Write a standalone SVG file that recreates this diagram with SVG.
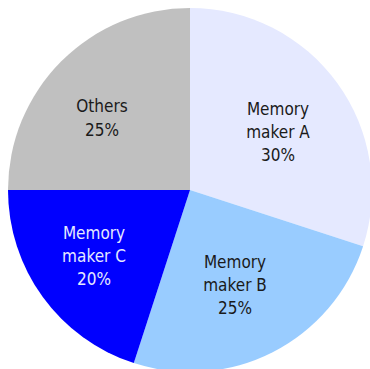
<svg xmlns="http://www.w3.org/2000/svg" width="370" height="369" viewBox="0 0 370 369">
<style>
.lbl{font-family:"DejaVu Sans Condensed","DejaVu Sans",sans-serif;font-size:17px;text-anchor:middle;fill:#1a1a1a}
.lt{fill:#e5e9ff}
.sl{stroke:none}
</style>
<rect width="370" height="369" fill="#ffffff"/>
<g id="slice-a">
<path class="sl" d="M190,190 L190,8 A182,182 0 0 1 363.1,246.2 Z" fill="#e5e9ff"/>
<text class="lbl" x="278" y="115">Memory</text>
<text class="lbl" x="278" y="138">maker A</text>
<text class="lbl" x="278" y="161">30%</text>
</g>
<g id="slice-b">
<path class="sl" d="M190,190 L363.1,246.2 A182,182 0 0 1 133.8,363.1 Z" fill="#99ccff"/>
<text class="lbl" x="235" y="268">Memory</text>
<text class="lbl" x="235" y="291">maker B</text>
<text class="lbl" x="235" y="314">25%</text>
</g>
<g id="slice-c">
<path class="sl" d="M190,190 L133.8,363.1 A182,182 0 0 1 8,190 Z" fill="#0000ff"/>
<text class="lbl lt" x="94" y="239">Memory</text>
<text class="lbl lt" x="94" y="262">maker C</text>
<text class="lbl lt" x="94" y="285">20%</text>
</g>
<g id="slice-others">
<path class="sl" d="M190,190 L8,190 A182,182 0 0 1 190,8 Z" fill="#c0c0c0"/>
<text class="lbl" x="102" y="112">Others</text>
<text class="lbl" x="102" y="136">25%</text>
</g>
<g id="connectors"></g>
</svg>
